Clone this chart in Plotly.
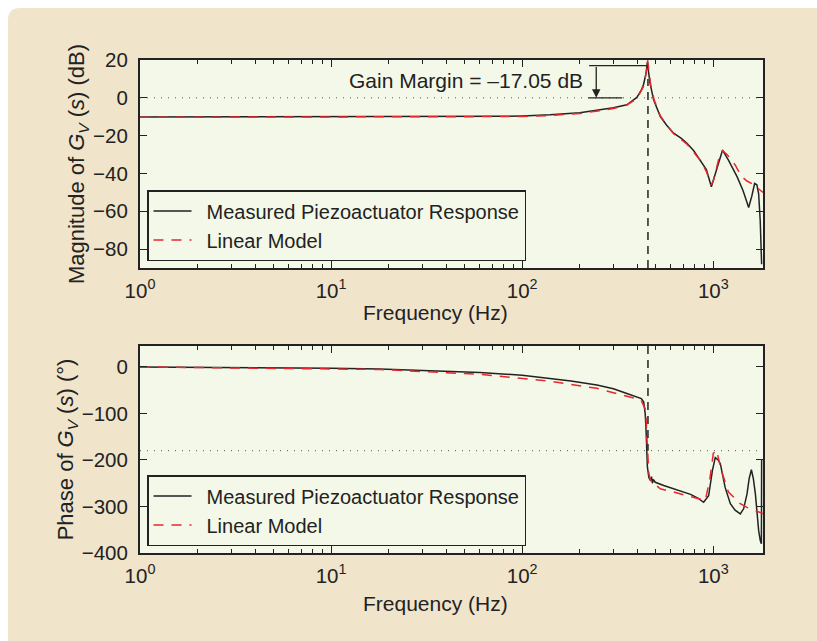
import math
import plotly.graph_objects as go

# ---- Bode data: magnitude (dB) ----
freq_mag_meas = [1, 2, 5, 10, 20, 50, 80, 100, 140, 200, 256, 300, 353, 398, 420, 431, 445,
                 452, 458, 466, 487, 528, 570, 620, 680, 728, 790, 855, 920, 977, 1010,
                 1060, 1118, 1200, 1331, 1430, 1531, 1590, 1645, 1690, 1726, 1760, 1783, 1790]
mag_meas = [-10.1, -10.1, -10.1, -10.0, -10.0, -9.9, -9.8, -9.6, -9.0, -7.9, -6.4, -5.3, -3.7,
            0.2, 4.0, 6.9, 13.0, 19.0, 14.0, 8.0, -1.1, -9.9, -14.5, -18.7, -21.5, -24.0,
            -28.0, -32.9, -38.0, -47.0, -42.0, -35.0, -27.6, -33.0, -41.7, -49.0, -58.0,
            -52.0, -45.3, -46.0, -50.6, -65.0, -86.0, -88.0]

freq_mag_model = [1, 10, 100, 140, 200, 256, 300, 353, 398, 431, 445, 453, 460, 470, 490, 528,
                  570, 620, 728, 855, 920, 975, 1000, 1030, 1070, 1118, 1180, 1250, 1310,
                  1400, 1500, 1600, 1700, 1820]
mag_model = [-10.3, -10.3, -9.9, -9.4, -8.3, -6.8, -5.6, -3.8, -0.5, 6.0, 13.0, 20.0, 14.0,
             7.0, -1.0, -9.5, -14.5, -19.0, -24.5, -33.0, -39.0, -46.0, -44.0, -38.0, -32.0,
             -28.0, -30.0, -33.0, -36.0, -41.5, -44.0, -45.5, -47.5, -50.0]

# ---- Bode data: phase (deg) ----
freq_ph_meas = [1, 2, 5, 10, 18, 30, 60, 100, 135, 180, 246, 300, 353, 398, 420, 432, 440,
                444, 448, 452, 460, 468, 475, 480, 485, 497, 550, 620, 700, 760, 830, 890,
                945, 990, 1024, 1060, 1088, 1153, 1228, 1300, 1384, 1441, 1501, 1540, 1582,
                1620, 1660, 1727, 1762, 1785, 1790]
ph_meas = [0, -0.5, -1.5, -3, -4.3, -7, -12, -18, -24, -30, -39, -47, -57, -64, -68, -75,
           -100, -129, -180, -215, -238, -244, -236, -250, -242, -248, -255, -262, -268, -274,
           -282, -291, -277, -222, -195, -200, -208, -259, -294, -308, -316, -305, -273, -240,
           -221, -240, -273, -352, -374, -380, -200]

freq_ph_model = [1, 10, 18, 60, 135, 246, 353, 418, 440, 445, 450, 460, 470, 528, 620, 760,
                 908, 960, 1000, 1040, 1100, 1200, 1384, 1500, 1820]
ph_model = [0, -3.5, -5.5, -16, -30, -46, -63, -71, -90, -110, -158, -229, -245, -262, -269,
            -279, -287, -240, -186, -179, -222, -269, -294, -302, -315]

# ---- markers and axis ticks ----
crossover_hz = 455          # phase crossover frequency
gain_margin_db = 17.05      # peak magnitude above 0 dB at crossover
arrow_hz = 244
x_tick_vals = [1, 10, 100, 1000]
x_tick_text = ["10<sup>0</sup>", "10<sup>1</sup>", "10<sup>2</sup>", "10<sup>3</sup>"]
x_minor_vals = [m * d for d in (1, 10, 100) for m in range(2, 10)] + [2000]
mag_ticks = [-80, -60, -40, -20, 0, 20]
phase_ticks = [-400, -300, -200, -100, 0]
series_names = ["\u2002Measured Piezoactuator Response", "\u2002Linear Model"]

# ---- styling ----
FONT = "Liberation Sans, Arial, sans-serif"
FS = 20.5
INK = "#222222"
RED = "#E8262E"
BEIGE = "#F0E4CB"
PLOT_BG = "#F4F8E8"
W, H = 817, 641
ML, MR, MT, MB = 140, 54, 60, 88
PW, PH = W - ML - MR, H - MT - MB


def px_x(px):
    return (px - ML) / PW


def px_y(py):
    return (H - MB - py) / PH


fig = go.Figure()

fig.add_trace(go.Scatter(x=freq_mag_meas, y=mag_meas, mode="lines", name=series_names[0],
                         line=dict(color=INK, width=1.5), xaxis="x", yaxis="y", legend="legend"))
fig.add_trace(go.Scatter(x=freq_mag_model, y=mag_model, mode="lines", name=series_names[1],
                         line=dict(color=RED, width=1.5, dash="10px,8px"), xaxis="x", yaxis="y",
                         legend="legend"))
fig.add_trace(go.Scatter(x=freq_ph_meas, y=ph_meas, mode="lines", name=series_names[0],
                         line=dict(color=INK, width=1.5), xaxis="x2", yaxis="y2", legend="legend2"))
fig.add_trace(go.Scatter(x=freq_ph_model, y=ph_model, mode="lines", name=series_names[1],
                         line=dict(color=RED, width=1.5, dash="10px,8px"), xaxis="x2", yaxis="y2",
                         legend="legend2"))

xaxis_common = dict(
    type="log", range=[0, 3.26], tickvals=x_tick_vals, ticktext=x_tick_text,
    ticks="inside", ticklen=7, tickwidth=1.2, tickcolor=INK, mirror="ticks",
    showline=True, linecolor=INK, linewidth=2, showgrid=False, zeroline=False,
    minor=dict(tickvals=x_minor_vals, ticks="inside", ticklen=4, tickwidth=1, tickcolor=INK),
    ticklabelstandoff=3,
)
yaxis_common = dict(
    ticks="inside", ticklen=7, tickwidth=1.2, tickcolor=INK, mirror="ticks",
    showline=True, linecolor=INK, linewidth=2, showgrid=False, zeroline=False,
    ticklabelstandoff=6,
)

top_dom = [px_y(268), px_y(60)]
bot_dom = [px_y(553), px_y(346)]

legend_style = dict(xanchor="left", yanchor="bottom", bgcolor=PLOT_BG, bordercolor=INK,
                    borderwidth=1.5, font=dict(size=20), tracegroupgap=0, itemwidth=38)

fig.update_layout(
    width=W, height=H,
    margin=dict(l=ML, r=MR, t=MT, b=MB),
    paper_bgcolor=BEIGE, plot_bgcolor=PLOT_BG,
    font=dict(family=FONT, size=FS, color=INK),
    xaxis=dict(anchor="y", domain=[0, 1], **xaxis_common),
    yaxis=dict(anchor="x", domain=top_dom, range=[-90, 20], tickvals=mag_ticks,
               title=dict(text="Magnitude of <i>G<sub>V</sub></i> (<i>s</i>) (dB)", standoff=2,
                          font=dict(size=22)),
               **yaxis_common),
    xaxis2=dict(anchor="y2", domain=[0, 1], **xaxis_common),
    yaxis2=dict(anchor="x2", domain=bot_dom, range=[-400, 45], tickvals=phase_ticks,
                title=dict(text="Phase of <i>G<sub>V</sub></i> (<i>s</i>) (°)", standoff=2,
                           font=dict(size=22)),
                **yaxis_common),
    legend=dict(x=px_x(147), y=px_y(261), **legend_style),
    legend2=dict(x=px_x(147), y=px_y(546), **legend_style),
    showlegend=True,
)

shapes = []
# reference levels: 0 dB and -180 deg
shapes.append(dict(type="line", xref="x domain", yref="y", x0=0, x1=1, y0=0, y1=0,
                   line=dict(color="#555555", width=1, dash="1px,6px")))
shapes.append(dict(type="line", xref="x2 domain", yref="y2", x0=0, x1=1, y0=-180, y1=-180,
                   line=dict(color="#555555", width=1, dash="1px,6px")))
# phase crossover frequency markers
shapes.append(dict(type="line", xref="x", yref="y", x0=crossover_hz, x1=crossover_hz, y0=-90, y1=10,
                   line=dict(color=INK, width=1.5, dash="8px,6px")))
shapes.append(dict(type="line", xref="x2", yref="y2", x0=crossover_hz, x1=crossover_hz, y0=45, y1=-180,
                   line=dict(color=INK, width=1.5, dash="8px,6px")))
# gain-margin bracket
shapes.append(dict(type="line", xref="x", yref="y", x0=224, x1=crossover_hz - 5, y0=gain_margin_db,
                   y1=gain_margin_db, line=dict(color=INK, width=1.2)))
shapes.append(dict(type="line", xref="x", yref="y", x0=222, x1=334, y0=0, y1=0,
                   line=dict(color=INK, width=1.2)))

# white page border with a rounded corner around the beige panel
x_left, x_in = px_x(0), px_x(8)
y_top, y_in = px_y(0), px_y(8)
y_bot, x_right = px_y(H), px_x(W)
r = 12
shapes.append(dict(type="rect", xref="paper", yref="paper", x0=x_left, x1=x_in, y0=y_bot, y1=y_top,
                   fillcolor="white", line=dict(width=0)))
shapes.append(dict(type="rect", xref="paper", yref="paper", x0=x_left, x1=x_right, y0=y_in, y1=y_top,
                   fillcolor="white", line=dict(width=0)))
corner = (f"M {x_in},{px_y(8 + r)} Q {x_in},{y_in} {px_x(8 + r)},{y_in} "
          f"L {x_in},{y_in} Z")
shapes.append(dict(type="path", xref="paper", yref="paper", path=corner,
                   fillcolor="white", line=dict(width=0)))
fig.update_layout(shapes=shapes)

# frequency axis titles
for title_y in (312, 603):
    fig.add_annotation(xref="paper", yref="paper", x=px_x(435), y=px_y(title_y),
                       text="Frequency (Hz)", showarrow=False, xanchor="center",
                       yanchor="middle", font=dict(size=21, color=INK))

fig.add_annotation(xref="x", yref="y", x=1.707, y=9.0,
                   text=f"Gain Margin = \u2013{gain_margin_db:.2f} dB", showarrow=False,
                   xanchor="center", yanchor="middle", font=dict(size=21, color=INK))
fig.add_annotation(xref="x", yref="y", axref="x", ayref="y",
                   x=math.log10(arrow_hz), y=0, ax=math.log10(arrow_hz), ay=gain_margin_db,
                   text="", showarrow=True, arrowhead=2, arrowsize=1.3, arrowwidth=1.3,
                   arrowcolor=INK, standoff=0, startstandoff=0)

fig.write_html("out.html")
